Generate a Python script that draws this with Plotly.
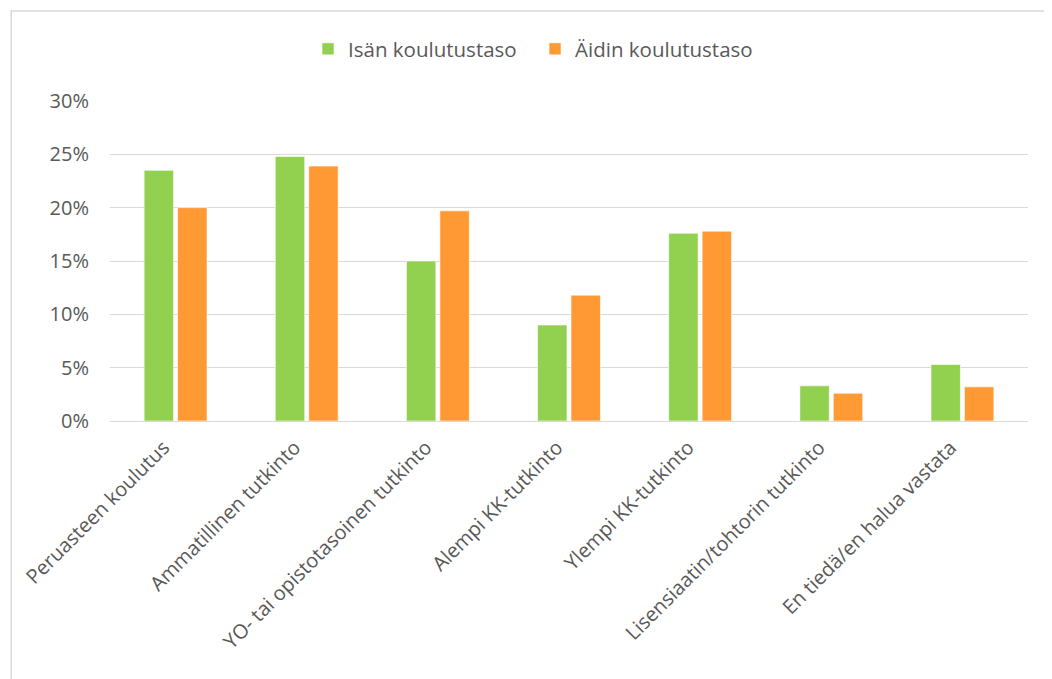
import plotly.graph_objects as go

categories = [
    "Peruasteen koulutus",
    "Ammatillinen tutkinto",
    "YO- tai opistotasoinen tutkinto",
    "Alempi KK-tutkinto",
    "Ylempi KK-tutkinto",
    "Lisensiaatin/tohtorin tutkinto",
    "En tiedä/en halua vastata",
]
isa_values = [0.235, 0.248, 0.150, 0.090, 0.176, 0.033, 0.053]
aiti_values = [0.200, 0.239, 0.197, 0.118, 0.178, 0.026, 0.032]
series_names = ["Isän koulutustaso", "Äidin koulutustaso"]
y_ticks = [0, 0.05, 0.10, 0.15, 0.20, 0.25, 0.30]
y_tick_labels = ["0%", "5%", "10%", "15%", "20%", "25%", "30%"]

GREEN = "#92D050"
ORANGE = "#FF9933"
TEXT = "#595959"
GRID = "#D9D9D9"
FONT = "Open Sans"

L, R, T, B = 100, 32, 93, 266
PW = 1052 - L - R
PH = 679 - T - B

fig = go.Figure()
fig.add_trace(go.Bar(
    name=series_names[0], x=categories, y=isa_values,
    marker=dict(color=GREEN, line=dict(color="rgba(255,255,255,0.6)", width=1)),
))
fig.add_trace(go.Bar(
    name=series_names[1], x=categories, y=aiti_values,
    marker=dict(color=ORANGE, line=dict(color="rgba(255,255,255,0.6)", width=1)),
))

fig.update_layout(
    width=1052, height=679,
    margin=dict(l=L, r=R, t=T, b=B),
    paper_bgcolor="white", plot_bgcolor="white",
    barmode="group", bargap=0.49, bargroupgap=0.12,
    font=dict(family=FONT, color=TEXT, size=20),
    showlegend=True,
    legend=dict(
        orientation="h", x=0.463, xanchor="center", y=(413 - 41) / PH,
        yanchor="middle",
        font=dict(family=FONT, size=20.5, color=TEXT), itemwidth=30,
        entrywidth=182, entrywidthmode="pixels",
        bgcolor="rgba(0,0,0,0)",
    ),
    xaxis=dict(
        tickangle=-45, showgrid=False, showline=False, zeroline=False,
        ticks="", tickfont=dict(family=FONT, size=20, color=TEXT),
        ticklabelstandoff=10, ticklabelshift=-12,
    ),
    yaxis=dict(
        range=[0, 0.30], tickvals=y_ticks, ticktext=y_tick_labels,
        showgrid=True, gridcolor=GRID, gridwidth=1.3,
        zeroline=True, zerolinecolor=GRID, zerolinewidth=1.3,
        showline=False, ticks="", tickfont=dict(family=FONT, size=20, color=TEXT),
        ticklabelstandoff=20,
    ),
    shapes=[dict(
        type="rect", xref="paper", yref="paper",
        x0=(1 - L) / PW, x1=1.2, y0=-2.0, y1=(413 - 3) / PH,
        line=dict(color=GRID, width=1.5), fillcolor="rgba(0,0,0,0)", layer="below",
    )],
)

fig.write_html("out.html")
